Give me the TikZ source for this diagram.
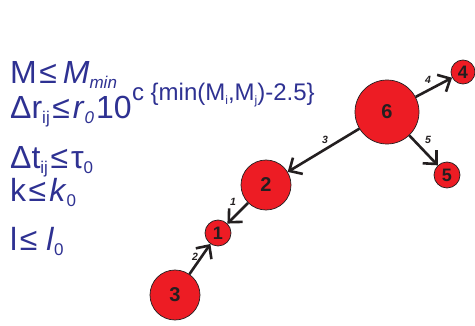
\documentclass[tikz,border=0pt]{standalone}
\usepackage{fontspec}
\setmainfont{Liberation Sans}
\usetikzlibrary{arrows.meta}
\definecolor{txtblue}{RGB}{46,49,146}
\definecolor{nodered}{RGB}{237,28,36}
\definecolor{ink}{RGB}{35,31,32}
\newcommand{\mysub}[1]{\raisebox{-0.16em}{\fontsize{17}{17}\selectfont #1}}
\newcommand{\mysmsub}[1]{\raisebox{-0.2em}{\fontsize{12}{12}\selectfont #1}}
\newcommand{\myle}{\hspace{2.5pt}≤\hspace{3pt}}
\tikzset{
  formula/.style={anchor=base west, inner sep=0pt, text=txtblue, font=\fontsize{32}{38}\selectfont},
  supers/.style={anchor=base west, inner sep=0pt, text=txtblue, font=\fontsize{24}{28}\selectfont},
  event/.style={circle, fill=nodered, draw=ink, line width=0.7pt, inner sep=0pt, text=ink, font=\bfseries\fontsize{20}{20}\selectfont},
  conn/.style={draw=ink, line width=2.6pt, -{Straight Barb[length=10pt,width=19pt]}},
  lab/.style={inner sep=0pt, text=ink, font=\bfseries\itshape\fontsize{10.5}{10.5}\selectfont}
}
\begin{document}
\begin{tikzpicture}[x=1pt,y=1pt]
\useasboundingbox (0,0) rectangle (475,325);
% formulas
\node[formula] (f1) at (10,242) {M\myle\hspace{3pt}\textit{M}\mysub{\itshape min}};
\node[formula] (f2) at (10,207) {Δr\mysub{ij}\myle\textit{r}\mysub{\itshape 0}\hspace{2pt}10};
\node[supers] (f2s) at (f2.base east) [yshift=18pt] {c \{min(M\mysmsub{i},M\mysmsub{j})-2.5\}};
\node[formula] (f3) at (10,157) {Δt\mysub{ij}\myle τ\mysub{0}};
\node[formula] (f4) at (10,124) {k\myle\textit{k}\mysub{0}};
\node[formula] (f5) at (10,75) {l\myle\hspace{6pt}\textit{l}\mysub{0}};
% events
\node[event, minimum size=64pt] (n6) at (387,213) {6};
\node[event, minimum size=24pt, font=\bfseries\fontsize{18}{18}\selectfont] (n4) at (463,253) {4};
\node[event, minimum size=26pt, font=\bfseries\fontsize{18}{18}\selectfont] (n5) at (447,150) {5};
\node[event, minimum size=50pt] (n2) at (266,140) {2};
\node[event, minimum size=26pt, font=\bfseries\fontsize{18}{18}\selectfont] (n1) at (218,92) {1};
\node[event, minimum size=50pt] (n3) at (175,30) {3};
% connectors
\draw[conn] (n6) -- (n4);
\draw[conn] (n6) -- (n5);
\draw[conn] (n6) -- (n2);
\draw[conn] (n2) -- (n1);
\draw[conn] (n3) -- (n1);
% labels
\node[lab] (l4) at (428,245) {4};
\node[lab] (l5) at (428,185) {5};
\node[lab] (l3) at (325,185) {3};
\node[lab] (l1) at (233,123) {1};
\node[lab] (l2) at (195,68) {2};
\end{tikzpicture}
\end{document}
